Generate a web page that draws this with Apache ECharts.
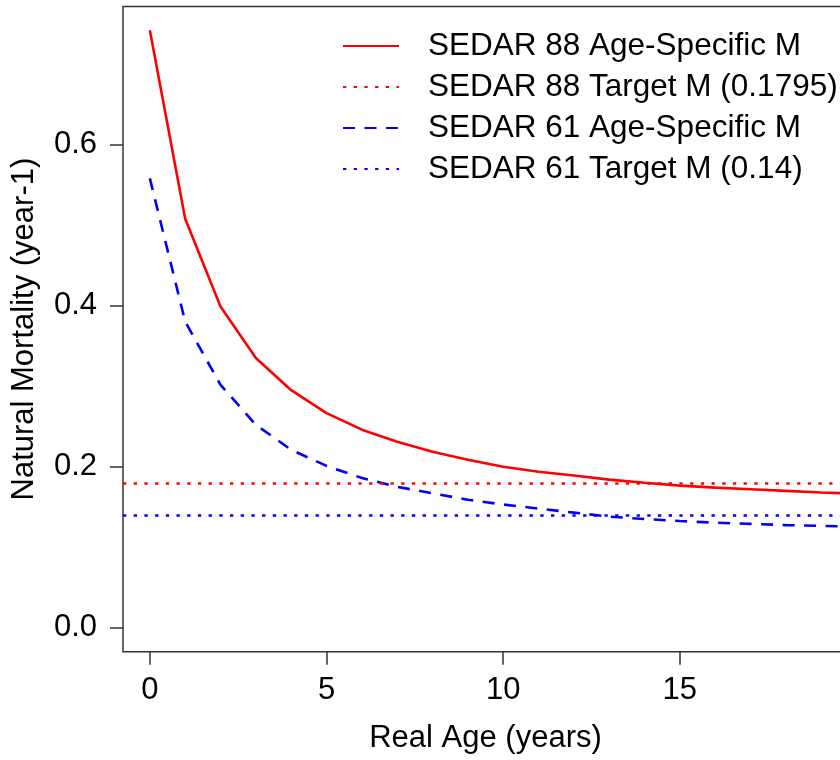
<!DOCTYPE html>
<html>
<head>
<meta charset="utf-8">
<script src="https://cdn.jsdelivr.net/npm/echarts@6/dist/echarts.min.js"></script>
<style>
  html, body { margin: 0; padding: 0; background: #fff; }
  #chart { width: 840px; height: 760px; }
</style>
</head>
<body>
<div id="chart"></div>
<script>
// ---- data ----
var ages = [0, 1, 2, 3, 4, 5, 6, 7, 8, 9, 10, 11, 12, 13, 14, 15, 16, 17, 18, 19, 20];
var sedar88M = [0.742, 0.508, 0.399, 0.335, 0.295, 0.2665, 0.246, 0.231, 0.2186, 0.2087, 0.200, 0.1938, 0.189, 0.184, 0.180, 0.1765, 0.174, 0.172, 0.170, 0.168, 0.1665];
var sedar61M = [0.558, 0.380, 0.3016, 0.252, 0.221, 0.201, 0.186, 0.175, 0.167, 0.159, 0.153, 0.148, 0.143, 0.138, 0.135, 0.1325, 0.1305, 0.129, 0.1275, 0.1265, 0.1255];
var target88 = 0.1795;
var target61 = 0.14;
var xTicks = [0, 5, 10, 15];
var yTicks = [0, 0.2, 0.4, 0.6];
var seriesNames = ['SEDAR 88 Age-Specific M', 'SEDAR 88 Target M (0.1795)', 'SEDAR 61 Age-Specific M', 'SEDAR 61 Target M (0.14)'];

// ---- chart ----
var FONT = "'Liberation Sans', Arial, sans-serif";
var RED = '#ff0000', BLUE = '#0000ff';
var DOT = [3.3, 7.4], DASH = [12, 9.5];
var LW = 2.6;
var AXFS = 31, LEGFS = 31.5;

function pairs(xs, ys) { return xs.map(function (x, i) { return [x, ys[i]]; }); }

var chart = echarts.init(document.getElementById('chart'), null, { renderer: 'canvas' });
chart.setOption({
  animation: false,
  backgroundColor: '#ffffff',
  textStyle: { fontFamily: FONT },
  grid: {
    left: 123, top: 6.5, right: -8, bottom: 108.3,
    show: true, borderColor: '#333333', borderWidth: 1.5,
    containLabel: false, outerBoundsMode: 'none'
  },
  legend: {
    orient: 'vertical',
    left: 342, top: 30, padding: 0,
    itemWidth: 56, itemHeight: 14, itemGap: 9,
    data: seriesNames,
    selectedMode: false,
    itemStyle: { opacity: 0 },
    textStyle: { fontFamily: FONT, fontSize: LEGFS, color: '#000', lineHeight: 30, padding: [0, 0, 0, 24] }
  },
  xAxis: {
    type: 'value',
    min: -0.76, max: 19.76,
    name: 'Real Age (years)',
    nameLocation: 'middle', nameGap: 71,
    nameTextStyle: { fontFamily: FONT, fontSize: AXFS, color: '#000' },
    axisLine: { show: false, onZero: false },
    axisTick: { show: true, length: 13, inside: false, customValues: xTicks, lineStyle: { color: '#333', width: 1.5 } },
    axisLabel: { customValues: xTicks, margin: 23, fontFamily: FONT, fontSize: AXFS, color: '#000' },
    splitLine: { show: false }
  },
  yAxis: {
    type: 'value',
    min: -0.0297, max: 0.7714,
    name: 'Natural Mortality (year-1)',
    nameLocation: 'middle', nameGap: 83,
    nameTextStyle: { fontFamily: FONT, fontSize: AXFS, color: '#000' },
    axisLine: { show: false, onZero: false },
    axisTick: { show: true, length: 13, inside: false, customValues: yTicks, lineStyle: { color: '#333', width: 1.5 } },
    axisLabel: { customValues: yTicks, margin: 26, fontFamily: FONT, fontSize: AXFS, color: '#000',
      formatter: function (v) { return v.toFixed(1); } },
    splitLine: { show: false }
  },
  series: [
    {
      name: seriesNames[0], type: 'line', symbol: 'none', symbolSize: 0, showSymbol: false, clip: true,
      data: pairs(ages, sedar88M),
      lineStyle: { color: RED, width: LW, type: 'solid' }, itemStyle: { color: RED }, z: 5
    },
    {
      name: seriesNames[1], type: 'line', symbol: 'none', symbolSize: 0, showSymbol: false, data: [],
      lineStyle: { color: RED, width: LW, type: DOT }, itemStyle: { color: RED },
      markLine: { silent: true, symbol: ['none', 'none'], label: { show: false }, animation: false,
        lineStyle: { color: RED, width: LW, type: DOT }, data: [{ yAxis: target88 }] }
    },
    {
      name: seriesNames[2], type: 'line', symbol: 'none', symbolSize: 0, showSymbol: false, clip: true,
      data: pairs(ages, sedar61M),
      lineStyle: { color: BLUE, width: LW, type: DASH }, itemStyle: { color: BLUE }, z: 4
    },
    {
      name: seriesNames[3], type: 'line', symbol: 'none', symbolSize: 0, showSymbol: false, data: [],
      lineStyle: { color: BLUE, width: LW, type: DOT }, itemStyle: { color: BLUE },
      markLine: { silent: true, symbol: ['none', 'none'], label: { show: false }, animation: false,
        lineStyle: { color: BLUE, width: LW, type: DOT }, data: [{ yAxis: target61 }] }
    }
  ]
});
</script>
</body>
</html>
